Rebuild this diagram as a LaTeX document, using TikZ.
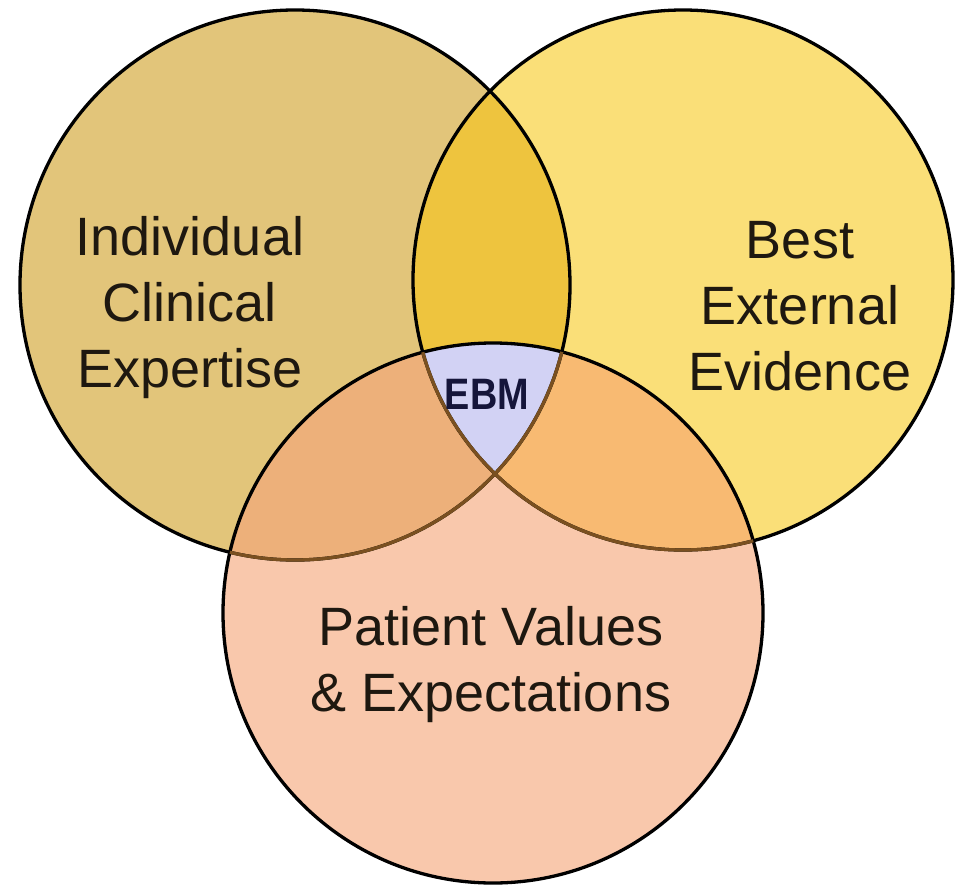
\documentclass[tikz,border=0pt]{standalone}
\usepackage{fontspec}
\setmainfont{Liberation Sans}
\definecolor{cL}{HTML}{E2C57A}
\definecolor{cR}{HTML}{FADF78}
\definecolor{cB}{HTML}{F9C8AC}
\definecolor{cLR}{HTML}{EEC43E}
\definecolor{cLB}{HTML}{EDB07A}
\definecolor{cRB}{HTML}{F8BA72}
\definecolor{cEBM}{HTML}{D2D2F4}
\definecolor{cIn}{HTML}{7A5020}
\definecolor{cTxt}{HTML}{1E1810}
\definecolor{cEBMtxt}{HTML}{15153A}
\tikzset{
  outline/.style={draw=black, line width=3.3pt},
  inline/.style={draw=cIn, line width=3.3pt},
  label/.style={align=center, inner sep=0pt, text=cTxt,
    font=\fontsize{54}{66}\selectfont},
}
\begin{document}
\begin{tikzpicture}[x=1pt, y=-1pt]
\useasboundingbox (0,0) rectangle (961,886);
\fill[white] (0,0) rectangle (961,886);
% circles: left, right, bottom
\def\Lc{(295,285) circle (275pt)}
\def\Rc{(683,280) circle (270pt)}
\def\Bc{(493,613) circle (270pt)}
\fill[cL] \Lc;
\fill[cR] \Rc;
\fill[cB] \Bc;
\begin{scope}
  \clip \Lc;
  \fill[cLR] \Rc;
  \fill[cLB] \Bc;
\end{scope}
\begin{scope}
  \clip \Rc;
  \fill[cRB] \Bc;
\end{scope}
\begin{scope}
  \clip \Lc;
  \clip \Rc;
  \fill[cEBM] \Bc;
\end{scope}
% outlines
\path[outline] \Lc;
\path[outline] \Rc;
\path[outline] \Bc;
\begin{scope}
  \clip \Bc;
  \path[inline] \Lc;
  \path[inline] \Rc;
\end{scope}
% labels
\node[label] (ice) at (190,308) {Individual\\Clinical\\Expertise};
\node[label] (bee) at (800,306) {Best\\External\\Evidence};
\node[label] (pve) at (491,665) {Patient Values\\\& Expectations};
\node[inner sep=0pt, text=cEBMtxt, xscale=0.86,
  font=\fontsize{44}{44}\selectfont\bfseries] (ebm) at (487,394) {EBM};
\end{tikzpicture}
\end{document}
